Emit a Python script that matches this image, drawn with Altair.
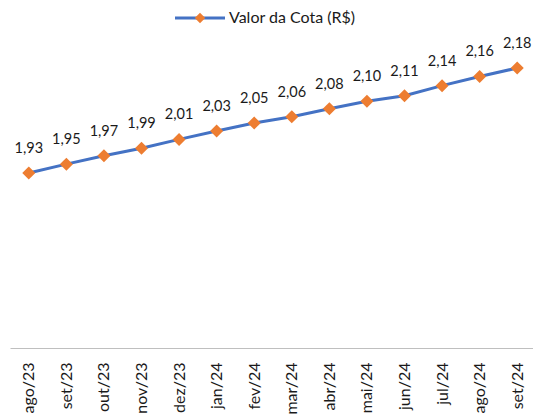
import altair as alt
import pandas as pd

months = ["ago/23", "set/23", "out/23", "nov/23", "dez/23", "jan/24", "fev/24",
          "mar/24", "abr/24", "mai/24", "jun/24", "jul/24", "ago/24", "set/24"]
# values (labels show them rounded to 2 decimals)
values = [1.930, 1.951, 1.971, 1.989, 2.010, 2.030, 2.049,
          2.064, 2.083, 2.101, 2.114, 2.138, 2.160, 2.180]
label_texts = ["1,93", "1,95", "1,97", "1,99", "2,01", "2,03", "2,05",
               "2,06", "2,08", "2,10", "2,11", "2,14", "2,16", "2,18"]
series_name = "Valor da Cota (R$)"

df = pd.DataFrame({"mes": months, "valor": values, "rotulo": label_texts})

FONT = "Lato"
BLUE = "#4472C4"
ORANGE = "#ED7D31"
TXT = "#1a1a1a"

x = alt.X("mes:N", sort=months, title=None,
          scale=alt.Scale(range=[0, 526], padding=0.5),
          axis=alt.Axis(labelAngle=-90, labelFontSize=16, labelFont=FONT, labelColor=TXT,
                        ticks=False, labelPadding=14, domainColor="#BFBFBF", domainWidth=1.2,
                        grid=False))
y = alt.Y("valor:Q", scale=alt.Scale(domain=[1.513, 2.304], nice=False, zero=False), axis=None)

base = alt.Chart(df)
line = base.mark_line(color=BLUE, strokeWidth=3).encode(x=x, y=y)
pts = base.mark_point(shape="diamond", filled=True, color=ORANGE, size=170, opacity=1).encode(x=x, y=y)
labels = base.mark_text(baseline="bottom", dy=-17, fontSize=14.5, font=FONT, color=TXT).encode(
    x=x, y=y, text="rotulo:N")

leg_df = pd.DataFrame({"nome": [series_name]})
leg_base = alt.Chart(leg_df)
leg_line = leg_base.mark_rule(color=BLUE, strokeWidth=3).encode(
    x=alt.value(165), x2=alt.value(215), y=alt.value(2))
leg_pt = leg_base.mark_point(shape="diamond", filled=True, color=ORANGE, size=110, opacity=1).encode(
    x=alt.value(190), y=alt.value(2))
leg_txt = leg_base.mark_text(align="left", baseline="middle", fontSize=16, font=FONT, color=TXT).encode(
    x=alt.value(219), y=alt.value(2), text="nome:N")

chart = alt.layer(line, pts, labels, leg_line, leg_pt, leg_txt).properties(
    width=523, height=332,
    autosize=alt.AutoSizeParams(type="none"),
    padding={"left": 2, "top": 8, "right": 0, "bottom": 68},
).configure_view(stroke=None)

chart.save("out.html", embed_options={"renderer": "svg", "actions": False})
